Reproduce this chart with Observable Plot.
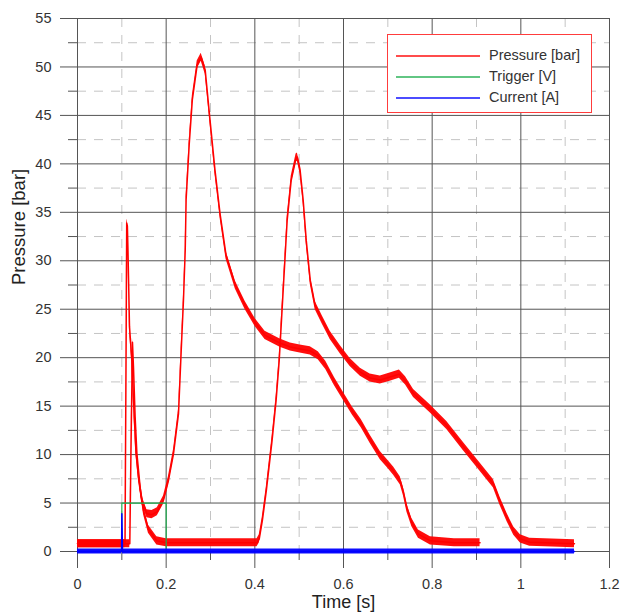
<!DOCTYPE html>
<html>
<head>
<meta charset="utf-8">
<script src="https://cdn.jsdelivr.net/npm/d3@7"></script>
<script src="https://cdn.jsdelivr.net/npm/@observablehq/plot@0.6"></script>
<style>
  body { margin: 0; background: #fff; }
  #chart { position: relative; width: 622px; height: 616px; font-family: "Liberation Sans", Arial, sans-serif; }
  #chart svg { display: block; }
  .legend { position: absolute; left: 387px; top: 34px; width: 205px; height: 79px; box-sizing: border-box;
            border: 1px solid #ff3c3c; background: #fff; }
  .legend .swatch { position: absolute; left: 8px; width: 84px; height: 2px; opacity: 0.7; }
  .legend .name { position: absolute; left: 101px; font-size: 14.5px; line-height: 17px; color: #333; white-space: nowrap; }
</style>
</head>
<body>
<div id="chart"></div>
<script>
// Pressure, run 1: early spike, main peak near 51 bar, long plateau then release
const run1Time = [0, 0.1072, 0.1095, 0.111, 0.1125, 0.1137, 0.1173, 0.1227, 0.1263, 0.1317, 0.1376, 0.1453, 0.1566, 0.168, 0.18,
  0.194, 0.205, 0.2166, 0.2278, 0.234, 0.239, 0.243, 0.245, 0.252, 0.259, 0.27, 0.279, 0.288, 0.299, 0.31, 0.322,
  0.335, 0.356, 0.378, 0.401, 0.423, 0.457, 0.48, 0.502, 0.525, 0.543, 0.56, 0.58, 0.6, 0.62, 0.64, 0.66, 0.683,
  0.70, 0.713, 0.728, 0.735, 0.743, 0.754, 0.769, 0.796, 0.85, 0.908];
const run1Pressure = [0.8, 0.8, 20, 33.9, 33.6, 31.4, 23.2, 19.7, 15.6, 10.4, 7.7, 5.3, 3.9, 3.8, 4.1,
  5.3, 7.3, 10.1, 14.2, 20.8, 25.9, 31.1, 36.3, 42, 46.6, 50.2, 51.0, 49.7, 44.5, 39.4, 34.7,
  30.6, 27.5, 25.4, 23.6, 22.3, 21.5, 21.1, 20.9, 20.7, 20.2, 19.2, 17.5, 16.0, 14.5, 13.2, 11.6, 9.9,
  9.0, 8.3, 7.3, 6.2, 4.5, 3.0, 1.8, 1.1, 0.9, 0.9];

// Pressure, run 2: small spike, peak near 40 bar, shoulder around 18 bar
const run2Time = [0, 0.118, 0.1205, 0.124, 0.1263, 0.130, 0.134, 0.1414, 0.149, 0.160, 0.179, 0.2, 0.405,
  0.41, 0.417, 0.426, 0.439, 0.448, 0.455, 0.464, 0.473, 0.482, 0.493, 0.496, 0.502, 0.509, 0.516, 0.525,
  0.536, 0.552, 0.57, 0.593, 0.615, 0.638, 0.66, 0.683, 0.705, 0.726, 0.74, 0.758, 0.796, 0.833, 0.871,
  0.908, 0.938, 0.953, 0.969, 0.984, 0.999, 1.02, 1.121];
const run2Pressure = [0.8, 0.8, 10, 21.6, 19.0, 13.9, 10.1, 6.6, 4.2, 2.3, 1.1, 0.9, 0.9,
  1.3, 3.2, 6.3, 11.5, 15.6, 19.7, 27, 34.2, 38.3, 40.6, 40.7, 39.4, 36.3, 32.1, 28,
  25.4, 23.9, 22.3, 20.8, 19.5, 18.5, 17.9, 17.7, 18.0, 18.3, 17.6, 16.3, 14.7, 13.0, 10.8,
  8.7, 7.0, 5.2, 3.5, 2.1, 1.3, 0.95, 0.8];

// Trigger pulse [V]
const triggerTime = [0, 0.1, 0.1, 0.2, 0.2, 1.12];
const triggerVolts = [0, 0, 5, 5, 0, 0];

// Current [A]
const currentTime = [0, 0.0995, 0.1, 0.1015, 1.121];
const currentAmps = [0, 0, 3.9, 0, 0];

// Axis ticks
const majorX = [0, 0.2, 0.4, 0.6, 0.8, 1, 1.2];
const minorX = [0.1, 0.3, 0.5, 0.7, 0.9, 1.1];
const majorY = [0, 5, 10, 15, 20, 25, 30, 35, 40, 45, 50, 55];
const minorY = [2.5, 7.5, 12.5, 17.5, 22.5, 27.5, 32.5, 37.5, 42.5, 47.5, 52.5];

const seriesNames = ["Pressure [bar]", "Trigger [V]", "Current [A]"];
const seriesColors = ["#ff0000", "#1fae4f", "#0000ff"];

const toRows = (ts, vs) => ts.map((t, i) => ({t, v: vs[i]}));
const run1 = toRows(run1Time, run1Pressure);
const run2 = toRows(run2Time, run2Pressure);
const trigger = toRows(triggerTime, triggerVolts);
const current = toRows(currentTime, currentAmps);

// the sensor traces are noisy; a thin band around each trace shows the noise spread
const redNoise = 0.42, blueNoise = 0.25;
const band = (rows, w, color) => Plot.areaY(rows, {x: "t", y1: d => d.v - w, y2: d => d.v + w, fill: color, fillOpacity: 0.95});
const trace = (rows, color, sw) => Plot.lineY(rows, {x: "t", y: "v", stroke: color, strokeWidth: sw});

const gridMajor = {stroke: "#555", strokeOpacity: 1, strokeWidth: 1};
const gridMinor = {stroke: "#c4c4c4", strokeOpacity: 1, strokeWidth: 1, strokeDasharray: "9,8"};
const plain = d => `${d}`;

const chart = Plot.plot({
  width: 622,
  height: 616,
  marginLeft: 77,
  marginRight: 13,
  marginTop: 18,
  marginBottom: 65,
  x: {domain: [0, 1.2]},
  y: {domain: [0, 55]},
  style: {fontFamily: "'Liberation Sans', Arial, sans-serif", fontSize: "14.5px", color: "#333", background: "#fff", overflow: "visible"},
  marks: [
    Plot.gridX(minorX, gridMinor),
    Plot.gridY(minorY, gridMinor),
    Plot.gridX(majorX, gridMajor),
    Plot.gridY(majorY, gridMajor),
    Plot.axisX(majorX, {tickSize: 17, tickPadding: 10, stroke: "#555", fill: "#333", tickFormat: plain, label: null}),
    Plot.axisX(minorX, {tickSize: 9, stroke: "#555", tickFormat: () => "", label: null}),
    Plot.axisY(majorY, {tickSize: 17, tickPadding: 9, stroke: "#555", fill: "#333", tickFormat: plain, label: null}),
    Plot.axisY(minorY, {tickSize: 9, stroke: "#555", tickFormat: () => "", label: null}),
    band(run1, redNoise, seriesColors[0]),
    trace(run1, seriesColors[0], 1.5),
    band(run2, redNoise, seriesColors[0]),
    trace(run2, seriesColors[0], 1.5),
    trace(trigger, seriesColors[1], 1.2),
    band(current, blueNoise, seriesColors[2]),
    trace(current, seriesColors[2], 1.5),
    Plot.text(["Time [s]"], {text: d => d, frameAnchor: "bottom", dy: 56.5, fontSize: 18, fill: "#222"}),
    Plot.text(["Pressure [bar]"], {text: d => d, frameAnchor: "left", dx: -58, rotate: -90, fontSize: 18.5, fill: "#222"})
  ]
});

const root = document.getElementById("chart");
root.appendChild(chart);

// legend box in the upper right of the plot
const legend = document.createElement("div");
legend.className = "legend";
seriesNames.forEach((name, i) => {
  const y = 19.5 + i * 21;
  const sw = document.createElement("div");
  sw.className = "swatch";
  sw.style.top = y + "px";
  sw.style.background = seriesColors[i];
  const label = document.createElement("div");
  label.className = "name";
  label.style.top = (y - 8) + "px";
  label.textContent = name;
  legend.appendChild(sw);
  legend.appendChild(label);
});
root.appendChild(legend);
</script>
</body>
</html>
